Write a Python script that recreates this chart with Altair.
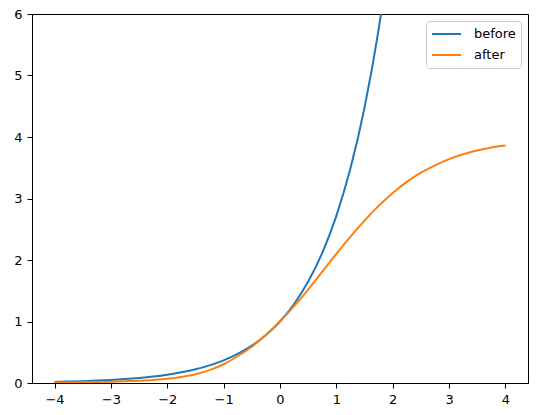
import altair as alt
import pandas as pd

# x positions
x_before = [-4.0, -3.75, -3.5, -3.25, -3.0, -2.75, -2.5, -2.25, -2.0, -1.75, -1.5,
            -1.25, -1.0, -0.75, -0.5, -0.25, 0.0, 0.25, 0.5, 0.75, 1.0, 1.25,
            1.5, 1.75, 2.0]
before_y = [0.018, 0.024, 0.030, 0.039, 0.050, 0.064, 0.082, 0.105, 0.135, 0.174,
            0.223, 0.287, 0.368, 0.472, 0.607, 0.779, 1.0, 1.284, 1.649, 2.117,
            2.718, 3.49, 4.48, 5.75, 7.39]

x_after = [-4.0, -3.75, -3.5, -3.25, -3.0, -2.75, -2.5, -2.25, -2.0, -1.75, -1.5,
           -1.25, -1.0, -0.75, -0.5, -0.25, 0.0, 0.25, 0.5, 0.75, 1.0, 1.25,
           1.5, 1.75, 2.0, 2.25, 2.5, 2.75, 3.0, 3.25, 3.5, 3.75, 4.0]
after_y = [0.008, 0.010, 0.013, 0.017, 0.022, 0.029, 0.037, 0.050, 0.068, 0.098,
           0.142, 0.210, 0.305, 0.435, 0.590, 0.780, 1.0, 1.25, 1.52, 1.81,
           2.10, 2.38, 2.64, 2.88, 3.09, 3.27, 3.42, 3.54, 3.64, 3.72, 3.78,
           3.83, 3.86]

series_names = ["before", "after"]
series_colors = ["#1f77b4", "#ff7f0e"]
x_ticks = [-4, -3, -2, -1, 0, 1, 2, 3, 4]
y_ticks = [0, 1, 2, 3, 4, 5, 6]

rows = [{"x": a, "y": b, "series": "before"} for a, b in zip(x_before, before_y)]
rows += [{"x": a, "y": b, "series": "after"} for a, b in zip(x_after, after_y)]
df = pd.DataFrame(rows)

FONT = "DejaVu Sans"

base = alt.Chart(df).mark_line(clip=True, strokeWidth=2, interpolate="monotone").encode(
    x=alt.X("x:Q",
            scale=alt.Scale(domain=[-4.4, 4.4], nice=False, zero=False),
            axis=alt.Axis(values=x_ticks, title=None, format="d",
                          labelExpr="replace(datum.label, '-', '\u2212')")),
    y=alt.Y("y:Q",
            scale=alt.Scale(domain=[0, 6], nice=False, zero=False),
            axis=alt.Axis(values=y_ticks, title=None, format="d")),
    color=alt.Color("series:N",
                    scale=alt.Scale(domain=series_names, range=series_colors),
                    legend=alt.Legend(title=None, orient="top-right", offset=7,
                                      symbolType="stroke", symbolSize=841,
                                      symbolStrokeWidth=2,
                                      labelFont=FONT, labelFontSize=13,
                                      labelColor="black",
                                      strokeColor="#cccccc", fillColor="white",
                                      cornerRadius=3, padding=5, labelOffset=12,
                                      clipHeight=16, rowPadding=5)),
)

chart = alt.layer(
    base.transform_filter(alt.datum.series == "before"),
    base.transform_filter(alt.datum.series == "after"),
).properties(
    width=496, height=369,
    autosize=alt.AutoSizeParams(type="none"),
    padding={"left": 24, "top": 6, "right": 11, "bottom": 24},
).configure_view(
    stroke="black", strokeWidth=1
).configure_axis(
    grid=False, domainColor="black", domainWidth=1, tickColor="black",
    tickSize=5, labelPadding=5, labelFont=FONT, labelFontSize=13,
    labelColor="black"
)

chart.save("out.html", embed_options={"renderer": "svg", "actions": False})
